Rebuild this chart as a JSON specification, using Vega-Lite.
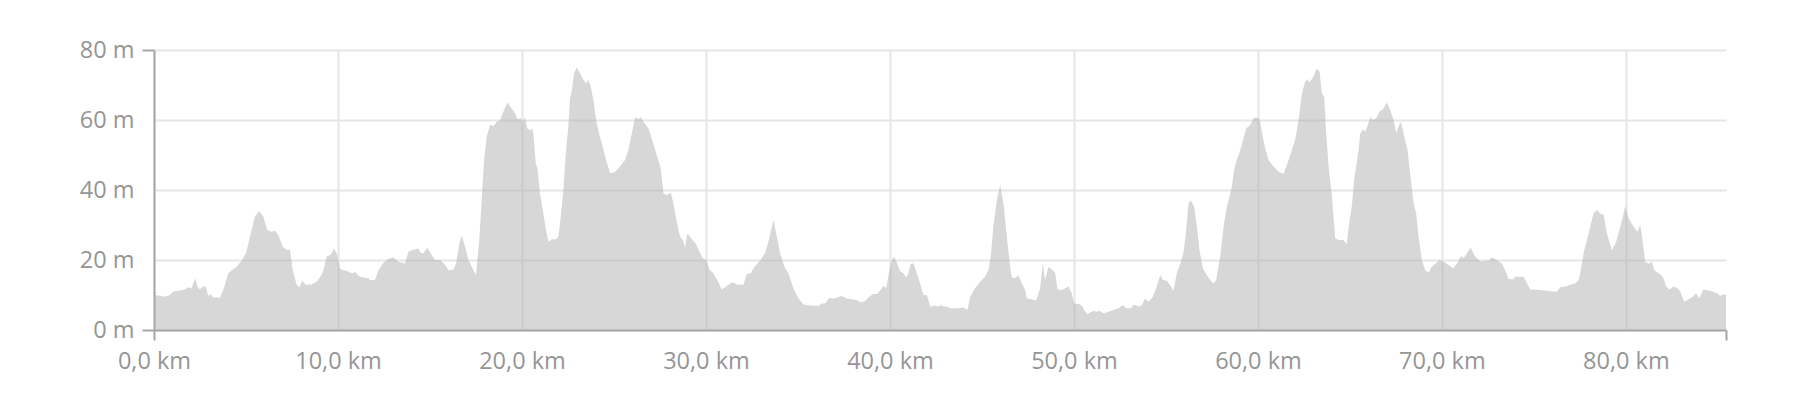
{
  "$schema": "https://vega.github.io/schema/vega-lite/v6.json",
  "width": 1572,
  "height": 280,
  "autosize": {"type": "none"},
  "padding": {"left": 154, "top": 50, "right": 74, "bottom": 70},
  "background": "white",
  "config": {"view": {"stroke": null}, "font": "Open Sans"},
  "data": {"values": [
    {"km":0,"m":10.0},{"km":0.33,"m":9.8},{"km":0.6,"m":9.5},{"km":0.87,"m":10.0},{"km":1.05,"m":11.0},{"km":1.32,"m":11.2},{"km":1.6,"m":11.4},{"km":1.87,"m":12.2},{"km":2.05,"m":11.9},{"km":2.23,"m":14.8},{"km":2.36,"m":12.4},{"km":2.5,"m":11.6},{"km":2.65,"m":12.4},{"km":2.81,"m":12.4},{"km":2.95,"m":9.7},{"km":3.08,"m":10.3},{"km":3.22,"m":9.3},{"km":3.59,"m":9.3},{"km":3.77,"m":11.4},{"km":4.04,"m":16.2},{"km":4.22,"m":17.1},{"km":4.49,"m":18.1},{"km":4.76,"m":19.8},{"km":5.0,"m":21.9},{"km":5.22,"m":26.7},{"km":5.49,"m":32.4},{"km":5.71,"m":34.0},{"km":5.94,"m":32.4},{"km":6.16,"m":28.6},{"km":6.4,"m":28.1},{"km":6.58,"m":28.4},{"km":6.76,"m":27.1},{"km":7.0,"m":23.8},{"km":7.21,"m":22.9},{"km":7.39,"m":22.9},{"km":7.54,"m":17.1},{"km":7.75,"m":12.9},{"km":7.9,"m":12.2},{"km":8.06,"m":14.1},{"km":8.24,"m":12.9},{"km":8.57,"m":13.0},{"km":8.84,"m":13.8},{"km":9.11,"m":15.7},
    {"km":9.2,"m":17.1},{"km":9.39,"m":21.1},{"km":9.6,"m":21.4},{"km":9.78,"m":23.3},{"km":9.93,"m":21.9},{"km":10.11,"m":17.6},{"km":10.29,"m":17.1},{"km":10.47,"m":16.9},{"km":10.65,"m":16.4},{"km":10.84,"m":16.2},{"km":10.93,"m":16.7},{"km":11.11,"m":15.4},{"km":11.38,"m":15.0},{"km":11.65,"m":14.8},{"km":11.74,"m":14.3},{"km":12.01,"m":14.3},{"km":12.2,"m":17.1},{"km":12.47,"m":19.2},{"km":12.74,"m":20.3},{"km":13.01,"m":20.8},{"km":13.28,"m":19.5},{"km":13.64,"m":19.0},{"km":13.83,"m":22.4},{"km":14.1,"m":22.9},{"km":14.37,"m":23.3},{"km":14.5,"m":22.1},{"km":14.64,"m":21.9},{"km":14.86,"m":23.6},{"km":15.09,"m":21.4},{"km":15.27,"m":20.0},{"km":15.55,"m":20.0},{"km":15.82,"m":18.6},{"km":16.0,"m":17.1},{"km":16.27,"m":17.3},{"km":16.42,"m":19.0},{"km":16.6,"m":24.8},{"km":16.73,"m":26.9},{"km":16.91,"m":23.8},{"km":17.09,"m":20.0},{"km":17.27,"m":18.1},{"km":17.5,"m":15.7},{"km":17.68,"m":25.7},{"km":17.81,"m":37.1},{"km":17.94,"m":48.6},{"km":18.08,"m":55.2},{"km":18.27,"m":58.6},{"km":18.45,"m":58.3},{"km":18.63,"m":59.5},
    {"km":18.81,"m":60.0},{"km":18.99,"m":62.4},{"km":19.21,"m":65.0},{"km":19.44,"m":63.3},{"km":19.62,"m":61.9},{"km":19.75,"m":60.3},{"km":19.93,"m":60.5},{"km":20.04,"m":59.5},{"km":20.15,"m":60.8},{"km":20.29,"m":57.6},{"km":20.44,"m":57.1},{"km":20.55,"m":57.6},{"km":20.62,"m":56.2},{"km":20.75,"m":47.6},{"km":20.84,"m":46.2},{"km":20.98,"m":39.0},{"km":21.16,"m":33.3},{"km":21.29,"m":29.0},{"km":21.44,"m":25.2},{"km":21.62,"m":25.9},{"km":21.85,"m":25.9},{"km":21.98,"m":26.7},{"km":22.11,"m":32.4},{"km":22.25,"m":40.0},{"km":22.38,"m":50.5},{"km":22.52,"m":58.1},{"km":22.61,"m":66.2},{"km":22.7,"m":68.1},{"km":22.83,"m":73.3},{"km":22.98,"m":75.0},{"km":23.16,"m":73.3},{"km":23.34,"m":71.4},{"km":23.48,"m":70.5},{"km":23.61,"m":71.4},{"km":23.74,"m":69.5},{"km":23.88,"m":65.7},{"km":24.06,"m":59.0},{"km":24.21,"m":55.7},{"km":24.39,"m":52.4},{"km":24.57,"m":48.6},{"km":24.79,"m":44.8},{"km":25.06,"m":45.2},{"km":25.33,"m":46.7},{"km":25.6,"m":48.6},{"km":25.78,"m":51.4},{"km":25.97,"m":56.2},{"km":26.15,"m":60.8},{"km":26.33,"m":60.2},{"km":26.46,"m":60.8},{"km":26.6,"m":59.5},{"km":26.87,"m":57.6},{"km":27.05,"m":54.8},{"km":27.32,"m":50.0},{"km":27.54,"m":46.2},{"km":27.69,"m":39.0},{"km":27.87,"m":38.6},{"km":28.09,"m":39.2},{"km":28.23,"m":36.2},{"km":28.41,"m":31.0},
    {"km":28.59,"m":26.7},{"km":28.74,"m":25.7},{"km":28.87,"m":23.6},{"km":28.99,"m":27.6},{"km":29.23,"m":25.9},{"km":29.46,"m":24.6},{"km":29.64,"m":22.4},{"km":29.83,"m":20.5},{"km":30.01,"m":20.0},{"km":30.19,"m":17.3},{"km":30.4,"m":16.2},{"km":30.59,"m":14.5},{"km":30.86,"m":11.6},{"km":31.04,"m":12.2},{"km":31.31,"m":13.3},{"km":31.49,"m":13.6},{"km":31.67,"m":13.0},{"km":32.04,"m":12.9},{"km":32.22,"m":16.0},{"km":32.43,"m":16.2},{"km":32.67,"m":18.3},{"km":32.94,"m":19.8},{"km":33.21,"m":21.9},{"km":33.39,"m":25.2},{"km":33.58,"m":29.5},{"km":33.67,"m":31.4},{"km":33.85,"m":26.7},{"km":34.03,"m":21.9},{"km":34.25,"m":18.3},{"km":34.48,"m":16.2},{"km":34.75,"m":11.9},{"km":35.03,"m":9.0},{"km":35.3,"m":7.3},{"km":35.66,"m":7.0},{"km":36.11,"m":6.9},{"km":36.29,"m":7.6},{"km":36.48,"m":7.6},{"km":36.71,"m":9.2},{"km":36.93,"m":8.9},{"km":37.11,"m":9.3},{"km":37.38,"m":9.7},{"km":37.65,"m":9.0},{"km":37.92,"m":8.8},{"km":38.2,"m":8.6},
    {"km":38.38,"m":7.9},{"km":38.6,"m":8.1},{"km":38.83,"m":9.3},{"km":39.07,"m":10.3},{"km":39.28,"m":10.3},{"km":39.46,"m":11.2},{"km":39.65,"m":12.7},{"km":39.79,"m":11.9},{"km":39.97,"m":17.1},{"km":40.1,"m":20.0},{"km":40.23,"m":21.0},{"km":40.37,"m":19.2},{"km":40.55,"m":16.7},{"km":40.73,"m":16.2},{"km":40.88,"m":15.0},{"km":41.0,"m":16.2},{"km":41.13,"m":18.9},{"km":41.28,"m":19.0},{"km":41.46,"m":16.2},{"km":41.64,"m":13.3},{"km":41.82,"m":10.0},{"km":42.0,"m":10.0},{"km":42.22,"m":6.4},{"km":42.4,"m":7.1},{"km":42.58,"m":6.7},{"km":42.76,"m":7.1},{"km":42.94,"m":6.7},{"km":43.12,"m":6.7},{"km":43.27,"m":6.2},{"km":43.63,"m":6.2},{"km":43.99,"m":6.4},{"km":44.21,"m":5.7},{"km":44.36,"m":9.5},{"km":44.63,"m":11.9},{"km":44.9,"m":13.8},{"km":45.17,"m":15.2},{"km":45.35,"m":17.1},{"km":45.48,"m":21.0},{"km":45.62,"m":29.5},{"km":45.81,"m":37.1},{"km":45.99,"m":41.4},{"km":46.17,"m":36.2},{"km":46.35,"m":26.7},{"km":46.53,"m":18.1},{"km":46.62,"m":15.0},{"km":46.8,"m":14.8},{"km":46.98,"m":15.7},{"km":47.17,"m":13.3},{"km":47.35,"m":11.4},{"km":47.44,"m":9.0},{"km":47.71,"m":8.8},{"km":47.95,"m":8.4},
    {"km":48.16,"m":11.9},{"km":48.31,"m":18.9},{"km":48.43,"m":14.3},{"km":48.62,"m":18.1},{"km":48.8,"m":17.3},{"km":48.98,"m":16.2},{"km":49.11,"m":11.6},{"km":49.34,"m":11.4},{"km":49.52,"m":11.9},{"km":49.7,"m":12.4},{"km":49.88,"m":10.5},{"km":50.01,"m":7.6},{"km":50.25,"m":7.4},{"km":50.43,"m":7.0},{"km":50.55,"m":5.7},{"km":50.74,"m":4.5},{"km":50.88,"m":5.0},{"km":51.06,"m":5.5},{"km":51.24,"m":5.2},{"km":51.39,"m":5.5},{"km":51.61,"m":4.8},{"km":51.88,"m":5.2},{"km":52.15,"m":5.7},{"km":52.42,"m":6.2},{"km":52.66,"m":7.1},{"km":52.87,"m":6.2},{"km":53.09,"m":6.2},{"km":53.27,"m":7.3},{"km":53.51,"m":6.7},{"km":53.69,"m":7.1},{"km":53.87,"m":9.0},{"km":54.05,"m":8.1},{"km":54.29,"m":9.5},{"km":54.5,"m":12.4},{"km":54.69,"m":15.7},{"km":54.83,"m":14.3},{"km":55.05,"m":14.1},{"km":55.27,"m":12.4},{"km":55.41,"m":11.2},{"km":55.59,"m":16.2},{"km":55.81,"m":19.5},{"km":55.95,"m":21.9},{"km":56.08,"m":27.6},{"km":56.23,"m":36.2},{"km":56.35,"m":37.1},{"km":56.53,"m":35.2},{"km":56.68,"m":29.5},{"km":56.82,"m":22.9},{"km":57.01,"m":17.6},{"km":57.22,"m":15.7},{"km":57.4,"m":14.3},{"km":57.59,"m":13.3},{"km":57.73,"m":14.3},
    {"km":57.95,"m":21.0},{"km":58.13,"m":29.5},{"km":58.31,"m":35.2},{"km":58.46,"m":38.1},{"km":58.58,"m":41.0},{"km":58.71,"m":45.7},{"km":58.85,"m":48.6},{"km":59.04,"m":51.4},{"km":59.22,"m":54.8},{"km":59.36,"m":57.6},{"km":59.58,"m":58.6},{"km":59.76,"m":60.5},{"km":59.9,"m":60.8},{"km":60.09,"m":60.3},{"km":60.21,"m":56.7},{"km":60.39,"m":51.9},{"km":60.58,"m":48.6},{"km":60.85,"m":46.7},{"km":61.12,"m":45.2},{"km":61.39,"m":44.6},{"km":61.57,"m":47.1},{"km":61.79,"m":50.5},{"km":62.02,"m":54.3},{"km":62.21,"m":60.0},{"km":62.39,"m":67.6},{"km":62.57,"m":71.0},{"km":62.7,"m":71.6},{"km":62.8,"m":70.7},{"km":63.02,"m":72.4},{"km":63.2,"m":74.8},{"km":63.35,"m":73.8},{"km":63.47,"m":67.6},{"km":63.6,"m":66.7},{"km":63.71,"m":56.2},{"km":63.84,"m":46.7},{"km":64.02,"m":38.1},{"km":64.2,"m":26.2},{"km":64.38,"m":25.7},{"km":64.65,"m":25.7},{"km":64.83,"m":24.6},{"km":64.98,"m":31.4},{"km":65.1,"m":35.2},{"km":65.23,"m":42.9},{"km":65.34,"m":46.7},{"km":65.47,"m":51.4},{"km":65.56,"m":56.2},{"km":65.7,"m":57.3},{"km":65.83,"m":56.7},{"km":65.96,"m":58.3},{"km":66.1,"m":60.8},{"km":66.25,"m":60.0},{"km":66.43,"m":60.5},{"km":66.61,"m":62.4},{"km":66.83,"m":63.3},{"km":67.01,"m":65.0},{"km":67.19,"m":62.9},{"km":67.37,"m":60.0},{"km":67.52,"m":56.2},{"km":67.64,"m":58.1},{"km":67.77,"m":59.5},
    {"km":67.91,"m":56.2},{"km":68.13,"m":51.4},{"km":68.31,"m":42.9},{"km":68.46,"m":36.2},{"km":68.6,"m":33.3},{"km":68.73,"m":26.7},{"km":68.91,"m":20.0},{"km":69.09,"m":17.1},{"km":69.27,"m":16.4},{"km":69.45,"m":18.1},{"km":69.63,"m":18.9},{"km":69.87,"m":20.0},{"km":70.09,"m":19.5},{"km":70.36,"m":18.6},{"km":70.6,"m":17.6},{"km":70.81,"m":18.9},{"km":71.03,"m":21.1},{"km":71.18,"m":20.5},{"km":71.36,"m":21.9},{"km":71.57,"m":23.6},{"km":71.75,"m":21.4},{"km":71.99,"m":20.0},{"km":72.17,"m":19.5},{"km":72.35,"m":19.8},{"km":72.53,"m":19.7},{"km":72.71,"m":20.8},{"km":72.99,"m":20.0},{"km":73.26,"m":18.9},{"km":73.44,"m":17.1},{"km":73.62,"m":14.5},{"km":73.89,"m":14.5},{"km":73.98,"m":15.2},{"km":74.44,"m":15.2},{"km":74.58,"m":13.8},{"km":74.8,"m":11.6},{"km":75.07,"m":11.6},{"km":75.34,"m":11.4},{"km":75.7,"m":11.2},{"km":75.98,"m":11.0},{"km":76.25,"m":11.0},{"km":76.43,"m":12.2},{"km":76.7,"m":12.4},{"km":76.97,"m":12.9},{"km":77.24,"m":13.3},{"km":77.43,"m":14.3},
    {"km":77.52,"m":16.2},{"km":77.7,"m":21.9},{"km":77.88,"m":25.7},{"km":78.06,"m":29.5},{"km":78.24,"m":33.3},{"km":78.42,"m":34.3},{"km":78.6,"m":33.3},{"km":78.79,"m":32.9},{"km":78.97,"m":27.6},{"km":79.24,"m":22.7},{"km":79.47,"m":25.2},{"km":79.69,"m":29.5},{"km":79.84,"m":32.4},{"km":79.96,"m":35.4},{"km":80.14,"m":31.9},{"km":80.42,"m":29.5},{"km":80.63,"m":28.1},{"km":80.78,"m":30.0},{"km":80.87,"m":26.7},{"km":81.05,"m":19.5},{"km":81.23,"m":18.9},{"km":81.41,"m":19.5},{"km":81.54,"m":17.1},{"km":81.78,"m":16.2},{"km":82.01,"m":15.2},{"km":82.19,"m":12.4},{"km":82.37,"m":11.6},{"km":82.59,"m":12.4},{"km":82.81,"m":11.9},{"km":82.95,"m":11.0},{"km":83.17,"m":8.1},{"km":83.41,"m":8.8},{"km":83.64,"m":9.5},{"km":83.82,"m":10.5},{"km":84.0,"m":9.0},{"km":84.18,"m":11.4},{"km":84.4,"m":11.4},{"km":84.67,"m":11.0},{"km":84.95,"m":10.5},{"km":85.13,"m":9.7},{"km":85.31,"m":10.2},{"km":85.44,"m":10.0}
  ]},
  "layer": [
    {
      "mark": {"type": "area", "color": "#b0b0b0", "opacity": 0.5, "interpolate": "linear"},
      "encoding": {
        "x": {
          "field": "km", "type": "quantitative",
          "scale": {"domain": [0, 85.44], "nice": false, "zero": false},
          "axis": {
            "values": [0, 10, 20, 30, 40, 50, 60, 70, 80],
            "title": null,
            "labelExpr": "replace(format(datum.value, '.1f'), '.', ',') + ' km'",
            "grid": true, "gridColor": "#e6e6e6", "gridWidth": 2,
            "ticks": false, "tickSize": 0,
            "domain": true, "domainColor": "#a6a6a6", "domainWidth": 2,
            "labelColor": "#959595", "labelFontSize": 23.5, "labelFont": "Open Sans",
            "labelPadding": 19, "labelFlush": false, "labelOverlap": false
          }
        },
        "y": {
          "field": "m", "type": "quantitative",
          "scale": {"domain": [0, 80], "nice": false},
          "axis": {
            "values": [0, 20, 40, 60, 80],
            "title": null,
            "labelExpr": "datum.value + ' m'",
            "grid": true, "gridColor": "#e6e6e6", "gridWidth": 2,
            "ticks": false, "tickSize": 0,
            "domain": true, "domainColor": "#a6a6a6", "domainWidth": 2,
            "labelColor": "#959595", "labelFontSize": 23.5, "labelFont": "Open Sans",
            "labelPadding": 20, "labelFlush": false, "labelOverlap": false
          }
        }
      }
    },
    {
      "mark": {"type": "point", "opacity": 0},
      "encoding": {
        "x": {
          "field": "km", "type": "quantitative",
          "scale": {"domain": [0, 85.44], "nice": false, "zero": false},
          "axis": {"orient": "bottom", "values": [0, 85.44], "title": null, "labels": false, "grid": false, "domain": false, "ticks": true, "tickSize": 10, "tickColor": "#a6a6a6", "tickWidth": 2}
        },
        "y": {
          "field": "m", "type": "quantitative",
          "scale": {"domain": [0, 80], "nice": false},
          "axis": {"orient": "left", "values": [0, 80], "title": null, "labels": false, "grid": false, "domain": false, "ticks": true, "tickSize": 12, "tickColor": "#a6a6a6", "tickWidth": 2}
        }
      }
    }
  ],
  "resolve": {"axis": {"x": "independent", "y": "independent"}}
}
